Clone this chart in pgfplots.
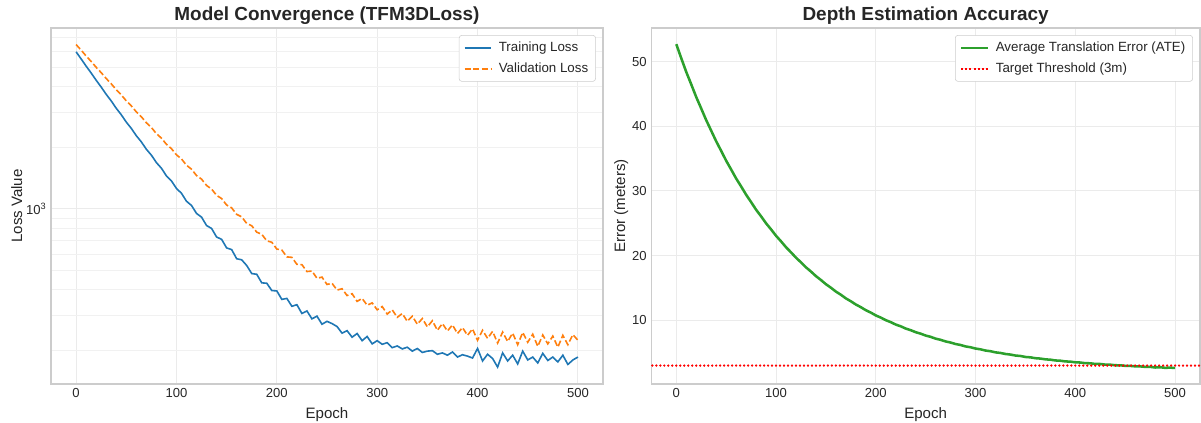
\documentclass[border=0pt]{standalone}
\usepackage{pgfplots}
\pgfplotsset{compat=1.18}
\usepackage{fontspec}
\setmainfont{Liberation Sans}

\definecolor{tblue}{HTML}{1F77B4}
\definecolor{torange}{HTML}{FF7F0E}
\definecolor{tgreen}{HTML}{2CA02C}
\definecolor{tred}{RGB}{255,0,0}
\definecolor{txt}{HTML}{262626}
\definecolor{gridc}{HTML}{EBEBEB}
\definecolor{spine}{HTML}{CCCCCC}

\pgfplotsset{
  legend image code/.code={\draw[#1] (0pt,0pt) -- (20pt,0pt);},
  sbstyle/.style={
    scale only axis,
    height=267pt,
    axis line style={spine, line width=0.9pt},
    major tick length=0pt, minor tick length=0pt,
    major grid style={gridc, line width=0.8pt},
    minor grid style={gridc!70, line width=0.6pt},
    tick label style={font=\fontsize{9.8}{11}\selectfont, text=txt},
    label style={font=\fontsize{11.3}{13}\selectfont, text=txt},
    ylabel style={yshift=-4pt},
    title style={font=\fontsize{14.2}{16}\selectfont\bfseries, text=txt, yshift=-7pt},
    /pgf/number format/assume math mode=true,
    xmin=-25, xmax=525, xtick={0,100,...,500},
    xlabel=Epoch,
    legend style={draw=spine, rounded corners=2pt, fill=white,
      font=\fontsize{10}{11.5}\selectfont, text=txt,
      at={(0.987,0.98)}, anchor=north east, row sep=3pt, column sep=3pt,
      inner xsep=3.5pt, inner ysep=3pt},
    legend cell align=left,
  }
}

\begin{document}
\begin{tikzpicture}
\path[use as bounding box] (0,0) rectangle (900.75pt,317.25pt);

% left: loss curves, log scale
\begin{axis}[sbstyle,
  at={(38.25pt,29.25pt)}, anchor=south west, width=414pt,
  ymode=log, ymin=137, ymax=7800,
  ytick={1000}, yticklabels={10\textsuperscript{3}},
  minor ytick={200,300,400,500,600,700,800,900,2000,3000,4000,5000,6000,7000},
  grid=both,
  title={Model Convergence (TFM3DLoss)},
  ylabel={Loss Value}]
\addplot[tblue, line width=1.2pt] coordinates {
(0,5950)(5,5492)(10,5058)(15,4680)(20,4309)(25,3990)(30,3672)(35,3408)(40,3135)(45,2913)
(50,2680)(55,2495)(60,2296)(65,2141)(70,1969)(75,1842)(80,1692)(85,1588)(90,1455)(95,1374)
(100,1262)(105,1194)(110,1091)(115,1040)(120,950)(125,911)(130,828)(135,801)(140,727)(145,708)
(150,642)(155,630)(160,568)(165,561)(170,526)(175,480)(180,476)(185,432)(190,430)(195,396)
(200,394)(205,358)(210,362)(215,331)(220,337)(225,305)(230,314)(235,287)(240,296)(245,270)
(250,279)(255,272)(260,263)(265,244)(270,251)(275,233)(280,243)(285,224)(290,235)(295,216)
(300,224)(305,215)(310,219)(315,207)(320,211)(325,204)(330,208)(335,199)(340,205)(345,196)
(350,199)(355,200)(360,192)(365,195)(370,190)(375,197)(380,186)(385,191)(390,188)(395,184)
(400,205)(405,178)(410,192)(415,183)(420,166)(425,195)(430,178)(435,190)(440,172)(445,199)
(450,180)(455,186)(460,174)(465,194)(470,179)(475,186)(480,176)(485,190)(490,171)(495,180)
(500,186)};
\addlegendentry{Training Loss}
\addplot[torange, line width=1.2pt, dash pattern=on 4.5pt off 2pt] coordinates {
(0,6462)(5,6065)(10,5675)(15,5335)(20,4992)(25,4698)(30,4395)(35,4140)(40,3870)(45,3650)
(50,3412)(55,3222)(60,3011)(65,2848)(70,2660)(75,2520)(80,2352)(85,2233)(90,2083)(95,1982)
(100,1848)(105,1764)(110,1642)(115,1570)(120,1460)(125,1402)(130,1305)(135,1253)(140,1166)(145,1125)
(150,1045)(155,1012)(160,940)(165,914)(170,848)(175,826)(180,768)(185,750)(190,696)(195,685)
(200,634)(205,627)(210,580)(215,577)(220,533)(225,531)(230,491)(235,494)(240,455)(245,461)
(250,424)(255,430)(260,398)(265,404)(270,374)(275,382)(280,350)(285,362)(290,335)(295,344)
(300,318)(305,330)(310,303)(315,318)(320,292)(325,305)(330,279)(335,296)(340,270)(345,288)
(350,262)(355,281)(360,252)(365,272)(370,250)(375,268)(380,243)(385,260)(390,238)(395,256)
(400,225)(405,252)(410,230)(415,249)(420,218)(425,247)(430,222)(435,244)(440,214)(445,246)
(450,220)(455,241)(460,210)(465,239)(470,216)(475,236)(480,208)(485,238)(490,214)(495,240)
(500,225)};
\addlegendentry{Validation Loss}
\end{axis}

% right: translation error
\begin{axis}[sbstyle,
  at={(488.5pt,29.25pt)}, anchor=south west, width=411.5pt,
  ymin=0.15, ymax=55.2, ytick={10,20,30,40,50},
  grid=major,
  title={Depth Estimation Accuracy},
  ylabel={Error (meters)}]
\addplot[tgreen, line width=1.9pt] coordinates {
(0,52.70)(5,50.52)(10,48.40)(15,46.48)(20,44.52)(25,42.75)(30,40.95)(35,39.32)(40,37.68)(45,36.20)
(50,34.68)(55,33.32)(60,31.93)(65,30.70)(70,29.42)(75,28.28)(80,27.10)(85,26.08)(90,25.00)(95,24.06)
(100,23.07)(105,22.21)(110,21.30)(115,20.51)(120,19.68)(125,18.96)(130,18.19)(135,17.54)(140,16.83)(145,16.23)
(150,15.58)(155,15.04)(160,14.44)(165,13.95)(170,13.39)(175,12.94)(180,12.44)(185,12.03)(190,11.56)(195,11.19)
(200,10.75)(205,10.42)(210,10.02)(215,9.71)(220,9.34)(225,9.07)(230,8.72)(235,8.47)(240,8.16)(245,7.93)
(250,7.64)(255,7.44)(260,7.16)(265,6.98)(270,6.73)(275,6.56)(280,6.33)(285,6.18)(290,5.96)(295,5.83)
(300,5.63)(305,5.51)(310,5.32)(315,5.22)(320,5.04)(325,4.95)(330,4.79)(335,4.70)(340,4.55)(345,4.48)
(350,4.33)(355,4.27)(360,4.14)(365,4.08)(370,3.96)(375,3.91)(380,3.79)(385,3.75)(390,3.64)(395,3.61)
(400,3.50)(405,3.47)(410,3.37)(415,3.35)(420,3.25)(425,3.24)(430,3.15)(435,3.14)(440,3.05)(445,3.04)
(450,2.96)(455,2.95)(460,2.88)(465,2.87)(470,2.80)(475,2.80)(480,2.70)(485,2.74)(490,2.65)(495,2.68)
(500,2.63)};
\addlegendentry{Average Translation Error (ATE)}
% threshold at 3 m, drawn as a row of red dots
\addplot[only marks, mark=*, mark size=0.65pt, draw=tred, fill=tred,
  legend image code/.code={\draw[tred, line width=1.4pt, dash pattern=on 1.5pt off 1.6pt] (0pt,0pt) -- (20pt,0pt);}]
  coordinates {
(-24,3)(-20,3)(-16,3)(-12,3)(-8,3)(-4,3)(0,3)(4,3)(8,3)(12,3)(16,3)(20,3)(24,3)(28,3)(32,3)(36,3)
(40,3)(44,3)(48,3)(52,3)(56,3)(60,3)(64,3)(68,3)(72,3)(76,3)(80,3)(84,3)(88,3)(92,3)(96,3)(100,3)
(104,3)(108,3)(112,3)(116,3)(120,3)(124,3)(128,3)(132,3)(136,3)(140,3)(144,3)(148,3)(152,3)(156,3)
(160,3)(164,3)(168,3)(172,3)(176,3)(180,3)(184,3)(188,3)(192,3)(196,3)(200,3)(204,3)(208,3)(212,3)
(216,3)(220,3)(224,3)(228,3)(232,3)(236,3)(240,3)(244,3)(248,3)(252,3)(256,3)(260,3)(264,3)(268,3)
(272,3)(276,3)(280,3)(284,3)(288,3)(292,3)(296,3)(300,3)(304,3)(308,3)(312,3)(316,3)(320,3)(324,3)
(328,3)(332,3)(336,3)(340,3)(344,3)(348,3)(352,3)(356,3)(360,3)(364,3)(368,3)(372,3)(376,3)(380,3)
(384,3)(388,3)(392,3)(396,3)(400,3)(404,3)(408,3)(412,3)(416,3)(420,3)(424,3)(428,3)(432,3)(436,3)
(440,3)(444,3)(448,3)(452,3)(456,3)(460,3)(464,3)(468,3)(472,3)(476,3)(480,3)(484,3)(488,3)(492,3)
(496,3)(500,3)(504,3)(508,3)(512,3)(516,3)(520,3)(524,3)};
\addlegendentry{Target Threshold (3m)}
\end{axis}
\end{tikzpicture}
\end{document}
